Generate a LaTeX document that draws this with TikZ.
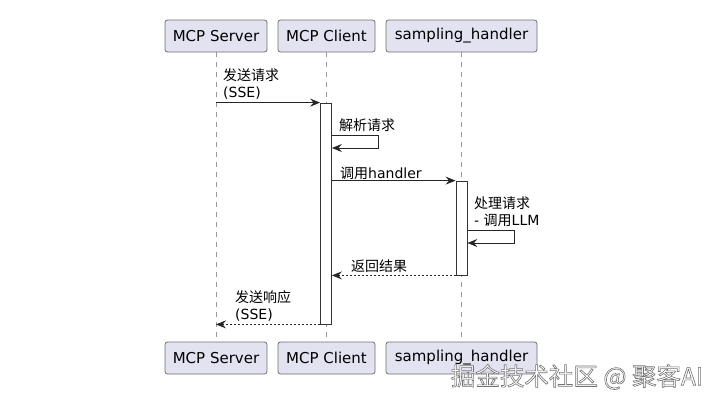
\documentclass[tikz,border=0pt]{standalone}
\usepackage{fontspec}
\setmainfont{DejaVu Sans}
\newfontfamily\cjk{Noto Sans CJK SC}
\usetikzlibrary{arrows.meta}
\newcommand{\zh}[1]{{\cjk #1}}
\definecolor{boxfill}{HTML}{E2E2F0}
\definecolor{boxline}{HTML}{707070}
\tikzset{
  actorbox/.style={draw=boxline, fill=boxfill, line width=0.8pt, rounded corners=2.5pt,
    minimum height=32pt, inner sep=0pt, font=\fontsize{15}{18}\selectfont},
  lifeline/.style={draw=gray!80, line width=0.6pt, dash pattern=on 5pt off 5pt},
  actbar/.style={draw=black!80, fill=white, line width=0.8pt, minimum width=11pt, inner sep=0pt},
  msg/.style={draw=black!85, line width=0.8pt, -{Stealth[length=10pt,width=8pt,inset=3.5pt]}},
  retmsg/.style={msg, dash pattern=on 2pt off 2pt},
  lbl/.style={anchor=west, inner sep=0pt, align=left, font=\fontsize{14}{17}\selectfont},
}
\begin{document}
\begin{tikzpicture}[x=1pt, y=-1pt]
\useasboundingbox[fill=white] (0,0) rectangle (720,405);
% actor boxes
\node[actorbox, minimum width=102pt] (st) at (216,36) {MCP Server};
\node[actorbox, minimum width=97pt] (ct) at (326.5,36) {MCP Client};
\node[actorbox, minimum width=151pt] (ht) at (461.5,36) {sampling\_handler};
\node[actorbox, minimum width=102pt] (sb) at (216,358) {MCP Server};
\node[actorbox, minimum width=97pt] (cb) at (326.5,358) {MCP Client};
\node[actorbox, minimum width=151pt] (hb) at (461.5,358) {sampling\_handler};
% lifelines
\draw[lifeline] (st) -- (sb);
\draw[lifeline] (ct) -- (cb);
\draw[lifeline] (ht) -- (hb);
% activations
\node[actbar, minimum height=221pt] (ca) at (326,213.5) {};
\node[actbar, minimum height=94pt] (ha) at (461.5,228) {};
% messages
\draw[msg] (st |- ca.north west) -- (ca.north west);
\node[lbl] (l1) at (223,84.5) {\zh{发送请求}\\(SSE)};
\draw[msg] (ca.east |- 0,135) -- ++(46,0) -- ++(0,13) -- (ca.east |- 0,148);
\node[lbl] (l2) at (339,125) {\zh{解析请求}};
\draw[msg] (ca.east |- ha.north) -- (ha.north west);
\node[lbl] (l3) at (340,173) {\zh{调用}handler};
\draw[msg] (ha.east |- 0,230) -- ++(47,0) -- ++(0,13) -- (ha.east |- 0,243);
\node[lbl] (l4) at (474,212) {\zh{处理请求}\\- \zh{调用}LLM};
\draw[retmsg] (ha.south west) -- (ca.east |- ha.south);
\node[lbl] (l5) at (351,266) {\zh{返回结果}};
\draw[retmsg] (ca.south west) -- (st |- ca.south);
\node[lbl] (l6) at (235,306) {\zh{发送响应}\\(SSE)};
% watermark
\node[inner sep=0pt, font=\cjk\fontsize{24.5}{26}\selectfont] (wm) at (577,377)
  {\special{pdf:literal direct q 2 Tr 0.45 G 1 g 0.6 w}掘金技术社区 @ 聚客AI\special{pdf:literal direct Q}};
\end{tikzpicture}
\end{document}
